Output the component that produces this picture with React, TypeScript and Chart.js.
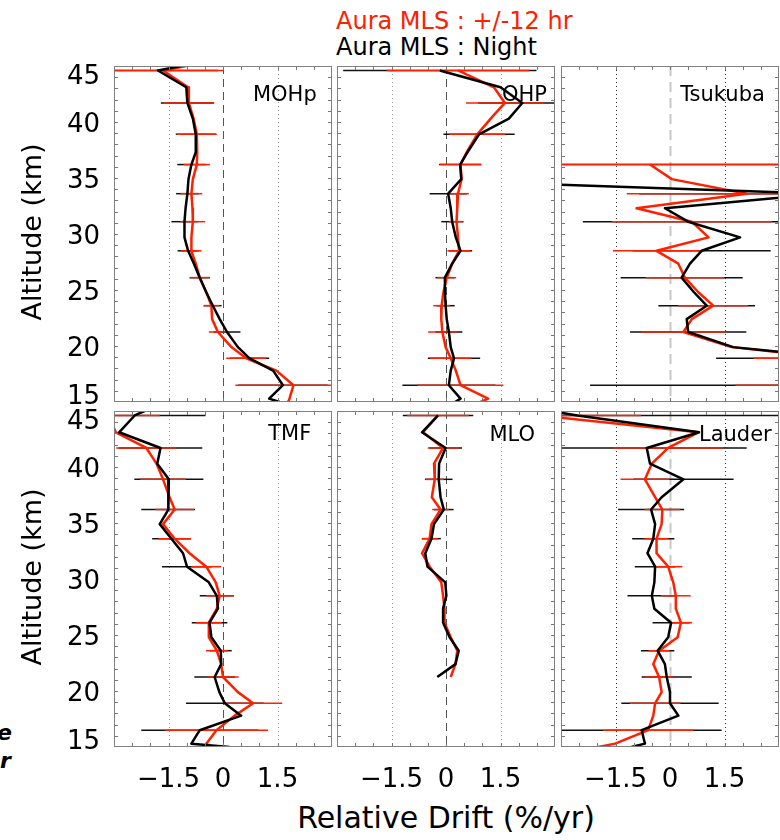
import React, { useEffect, useRef } from "react";
import { Chart, registerables } from "chart.js";
Chart.register(...registerables);

// ---------------- data ----------------
const ALTITUDE_KM = [45.0, 44.6, 43.1, 41.7, 40.3, 38.9, 37.3, 36.2, 34.9, 33.6, 32.3, 31.1, 29.7, 28.5, 27.35, 26.1, 24.8, 23.6, 22.4, 21.25, 19.9, 18.9, 17.8, 16.5, 15.3, 15.0];
const ERRORBAR_ALTITUDE_KM = [44.6, 41.7, 38.9, 36.2, 33.6, 31.1, 28.5, 26.1, 23.6, 21.25, 18.9, 16.5];
const X_TICK_LABELS = [-1.5, 0, 1.5];
const Y_TICK_LABELS = [15, 20, 25, 30, 35, 40, 45];
const SERIES_NAMES = ["Aura MLS : +/-12 hr", "Aura MLS : Night"];
const STATIONS = ["MOHp", "OHP", "Tsukuba", "TMF", "MLO", "Lauder"];

const MOHP_NIGHT = [-1.15, -1.79, -1.01, -0.98, -0.83, -0.75, -0.75, -0.87, -0.95, -0.98, -1.03, -1.06, -1.06, -0.96, -0.80, -0.64, -0.46, -0.28, -0.09, 0.11, 0.41, 0.73, 1.38, 1.65, 1.27, 1.56];
const MOHP_12HR = [-1.01, -1.65, -0.96, -0.94, -0.81, -0.72, -0.71, -0.72, -0.83, -0.87, -0.84, -0.83, -0.87, -0.87, -0.75, -0.64, -0.46, -0.32, -0.30, -0.14, 0.23, 0.64, 1.47, 1.94, 1.83, 1.79];
const MOHP_NIGHT_ERR = [1.65, 0.73, 0.55, 0.39, 0.31, 0.36, 0.29, 0.28, 0.24, 0.37, 0.54, 1.23];
const MOHP_12HR_ERR = [1.65, 0.70, 0.55, 0.36, 0.30, 0.34, 0.28, 0.27, 0.22, 0.25, 0.55, 1.60];

const OHP_NIGHT = [null, -0.17, 1.50, 2.10, 1.73, 0.91, 0.59, 0.39, 0.42, 0.06, 0.13, 0.17, 0.27, 0.40, 0.17, -0.03, -0.03, -0.01, 0.02, 0.08, 0.13, 0.22, 0.13, 0.08, 0.40, 0.25];
const OHP_12HR = [null, 0.33, 1.32, 1.62, 1.23, 0.86, 0.57, 0.40, 0.43, 0.33, 0.31, 0.29, 0.33, 0.36, 0.17, 0.02, -0.07, -0.12, -0.13, -0.10, -0.01, 0.13, 0.27, 0.40, 1.16, 0.95];
const OHP_NIGHT_ERR = [2.66, 1.22, 0.98, 0.58, 0.51, 0.30, 0.32, 0.26, 0.25, 0.37, 0.72, 1.28];
const OHP_12HR_ERR = [1.96, 1.07, 0.77, 0.57, 0.30, 0.20, 0.32, 0.26, 0.23, 0.39, 0.57, 1.18];

const TSUKUBA_NIGHT = [null, null, null, null, null, null, null, -9.0, -7.5, 4.2, -0.14, 0.50, 1.93, 0.87, 0.55, 0.32, 0.66, 1.01, 0.46, 0.50, 1.74, 4.85, 5.5, 5.5, null, null];
const TSUKUBA_12HR = [null, null, null, null, null, null, null, -0.55, 0.05, 2.11, -0.92, 0.60, 1.06, -0.37, 0.23, 0.41, 0.78, 1.19, 0.60, 0.37, 1.70, 4.5, 5.0, 5.0, null, null];
const TSUKUBA_NIGHT_ERR = [null, null, null, 13.0, 5.05, 2.9, 1.9, 1.68, 1.33, 1.6, 3.58, 7.7];
const TSUKUBA_12HR_ERR = [null, null, null, 4.0, 3.3, 2.2, 1.2, 1.08, 0.96, 1.15, 2.2, 3.2];

const TMF_NIGHT = [-2.16, -2.43, -2.86, -1.72, -1.81, -1.49, -1.50, -1.51, -1.74, -1.42, -1.10, -0.99, -0.39, -0.17, -0.14, -0.37, -0.32, -0.06, -0.05, -0.23, -0.10, 0.05, 0.50, -0.64, -0.87, 0.18];
const TMF_12HR = [null, -3.15, -2.95, -2.11, -1.83, -1.65, -1.47, -1.33, -1.65, -1.33, -0.92, -0.46, -0.20, -0.09, -0.17, -0.39, -0.39, -0.17, -0.05, 0.0, 0.41, 0.83, 0.32, -0.18, -0.46, -0.35];
const TMF_NIGHT_ERR = [1.95, 1.15, 0.95, 0.74, 0.53, 0.69, 0.47, 0.49, 0.30, 0.56, 1.07, 1.61];
const TMF_12HR_ERR = [1.41, 0.83, 0.63, 0.53, 0.45, 0.41, 0.38, 0.36, 0.30, 0.43, 0.80, 1.42];

const MLO_NIGHT = [null, -0.22, -0.66, -0.01, -0.19, -0.20, -0.15, -0.06, -0.33, -0.40, -0.57, -0.51, -0.02, 0.01, -0.08, -0.08, 0.10, 0.35, 0.26, -0.24, null, null, null, null, null, null];
const MLO_12HR = [null, -0.22, -0.63, -0.08, -0.33, -0.31, -0.39, -0.15, -0.40, -0.45, -0.66, -0.45, -0.13, -0.08, -0.04, -0.04, 0.13, 0.31, 0.26, 0.13, null, null, null, null, null, null];
const MLO_NIGHT_ERR = [0.97, 0.45, 0.38, 0.27, 0.26, null, null, null, null, null, null, null];
const MLO_12HR_ERR = [0.85, 0.42, 0.25, 0.23, 0.22, null, null, null, null, null, null, null];

const LAUDER_NIGHT = [-3.3, -2.55, 0.80, -0.64, -0.55, 0.37, -0.23, -0.52, -0.41, -0.46, -0.62, -0.41, -0.43, -0.50, -0.43, 0.03, -0.05, -0.34, -0.14, -0.09, 0.0, 0.0, 0.23, -0.78, -0.69, -1.06];
const LAUDER_12HR = [null, -3.6, 0.78, -0.05, -0.50, -0.69, -0.41, -0.21, -0.23, -0.37, -0.37, -0.05, 0.09, 0.16, 0.16, 0.30, 0.21, -0.30, -0.46, -0.30, -0.23, -0.41, -0.46, -0.60, -1.51, -1.97];
const LAUDER_NIGHT_ERR = [7.0, 2.75, 1.38, 0.91, 0.58, 0.56, 0.67, 0.51, 0.46, 0.69, 1.34, 2.2];
const LAUDER_12HR_ERR = [2.8, 1.5, 0.67, 0.49, 0.33, 0.39, 0.41, 0.31, 0.29, 0.38, 0.70, 1.24];

// ---------------- layout / style ----------------
const X_MIN = -3, X_MAX = 3, Y_MIN = 15, Y_MAX = 45;
const COL_X = [114, 337, 561];
const ROW_Y = [66, 411];
const PANEL_W = 218, PANEL_H = 336;
const CANVAS_COL = [[20, 335], [335, 558], [558, 780]];
const CANVAS_ROW = [[56, 405], [405, 800]];
const NIGHT_COLOR = "#000000";
const HR12_COLOR = "rgb(255,32,0)";
const FONT = '"DejaVu Sans", sans-serif';

const STYLE_A = {
  side: { color: "#9a9a9a", width: 1, dash: [1, 3] },
  zero: { color: "#555555", width: 1, dash: [8, 5] },
};
const STYLE_B = {
  side: { color: "#333333", width: 1, dash: [1, 3] },
  zero: { color: "#c8c8c8", width: 2, dash: [10, 6] },
};

type Panel = {
  name: string; night: (number | null)[]; hr12: (number | null)[];
  nightErr: (number | null)[]; hr12Err: (number | null)[];
  label: [number, number]; col: number; row: number; style: typeof STYLE_A;
};

const PANELS: Panel[] = [
  { name: STATIONS[0], night: MOHP_NIGHT, hr12: MOHP_12HR, nightErr: MOHP_NIGHT_ERR, hr12Err: MOHP_12HR_ERR, label: [2.58, 41.9], col: 0, row: 0, style: STYLE_A },
  { name: STATIONS[1], night: OHP_NIGHT, hr12: OHP_12HR, nightErr: OHP_NIGHT_ERR, hr12Err: OHP_12HR_ERR, label: [2.78, 41.85], col: 1, row: 0, style: STYLE_A },
  { name: STATIONS[2], night: TSUKUBA_NIGHT, hr12: TSUKUBA_12HR, nightErr: TSUKUBA_NIGHT_ERR, hr12Err: TSUKUBA_12HR_ERR, label: [2.61, 41.9], col: 2, row: 0, style: STYLE_B },
  { name: STATIONS[3], night: TMF_NIGHT, hr12: TMF_12HR, nightErr: TMF_NIGHT_ERR, hr12Err: TMF_12HR_ERR, label: [2.43, 42.4], col: 0, row: 1, style: STYLE_A },
  { name: STATIONS[4], night: MLO_NIGHT, hr12: MLO_12HR, nightErr: MLO_NIGHT_ERR, hr12Err: MLO_12HR_ERR, label: [2.45, 42.3], col: 1, row: 1, style: STYLE_A },
  { name: STATIONS[5], night: LAUDER_NIGHT, hr12: LAUDER_12HR, nightErr: LAUDER_NIGHT_ERR, hr12Err: LAUDER_12HR_ERR, label: [2.8, 42.3], col: 2, row: 1, style: STYLE_B },
];

const toPoints = (vals: (number | null)[]) =>
  vals
    .map((v, i) => (v == null ? null : { x: v, y: ALTITUDE_KM[i] }))
    .filter((p) => p !== null) as { x: number; y: number }[];

function makePlugin(p: Panel) {
  return {
    id: "decor",
    beforeDatasetsDraw(chart: any) {
      const { ctx, chartArea: a, scales } = chart;
      const xs = scales.x, ys = scales.y;
      ctx.save();
      ctx.beginPath();
      ctx.rect(a.left, a.top, a.right - a.left, a.bottom - a.top);
      ctx.clip();
      X_TICK_LABELS.forEach((v) => {
        const st = v === 0 ? p.style.zero : p.style.side;
        const px = Math.round(xs.getPixelForValue(v)) + 0.5;
        ctx.strokeStyle = st.color;
        ctx.lineWidth = st.width;
        ctx.setLineDash(st.dash);
        ctx.beginPath();
        ctx.moveTo(px, a.top);
        ctx.lineTo(px, a.bottom);
        ctx.stroke();
      });
      ctx.setLineDash([]);
      const bars = (vals: (number | null)[], errs: (number | null)[], color: string) => {
        ctx.strokeStyle = color;
        ctx.lineWidth = 1.5;
        ERRORBAR_ALTITUDE_KM.forEach((alt, k) => {
          const e = errs[k];
          const c = vals[ALTITUDE_KM.indexOf(alt)];
          if (e == null || c == null) return;
          const y = ys.getPixelForValue(alt);
          ctx.beginPath();
          ctx.moveTo(xs.getPixelForValue(c - e), y);
          ctx.lineTo(xs.getPixelForValue(c + e), y);
          ctx.stroke();
        });
      };
      bars(p.night, p.nightErr, "#111111");
      bars(p.hr12, p.hr12Err, HR12_COLOR);
      ctx.restore();
    },
    afterDatasetsDraw(chart: any) {
      const { ctx, chartArea: a, scales } = chart;
      const xs = scales.x, ys = scales.y;
      ctx.save();
      // ticks
      ctx.strokeStyle = "#777777";
      ctx.lineWidth = 1;
      for (let v = X_MIN + 0.5; v < X_MAX - 0.01; v += 0.5) {
        const px = Math.round(xs.getPixelForValue(v)) + 0.5;
        ctx.beginPath();
        ctx.moveTo(px, a.top); ctx.lineTo(px, a.top + 4);
        ctx.moveTo(px, a.bottom); ctx.lineTo(px, a.bottom - 4);
        ctx.stroke();
      }
      for (let v = Y_MIN + 1; v < Y_MAX; v += 1) {
        const py = Math.round(ys.getPixelForValue(v)) + 0.5;
        ctx.beginPath();
        ctx.moveTo(a.left, py); ctx.lineTo(a.left + 4, py);
        ctx.moveTo(a.right, py); ctx.lineTo(a.right - 4, py);
        ctx.stroke();
      }
      // frame
      ctx.strokeStyle = "#808080";
      ctx.lineWidth = 1;
      ctx.strokeRect(a.left + 0.5, a.top + 0.5, a.right - a.left - 1, a.bottom - a.top - 1);
      // station label
      ctx.fillStyle = "#000";
      ctx.font = `21px ${FONT}`;
      ctx.textAlign = "right";
      ctx.textBaseline = "alphabetic";
      ctx.fillText(p.name, xs.getPixelForValue(p.label[0]), ys.getPixelForValue(p.label[1]));
      // tick labels
      ctx.font = `26px ${FONT}`;
      if (p.col === 0) {
        ctx.textAlign = "right";
        ctx.textBaseline = "middle";
        Y_TICK_LABELS.forEach((v) => {
          const py = Math.min(Math.max(ys.getPixelForValue(v) + 3, a.top + 11), a.bottom - 5);
          ctx.fillText(String(v), a.left - 14, py);
        });
      }
      if (p.row === 1) {
        ctx.textAlign = "center";
        ctx.textBaseline = "middle";
        X_TICK_LABELS.forEach((v) => {
          const s = v < 0 ? "\u2212" + Math.abs(v).toString() : v.toString();
          ctx.fillText(s, xs.getPixelForValue(v), a.bottom + 33);
        });
      }
      ctx.restore();
    },
  };
}

function PanelChart({ p }: { p: Panel }) {
  const ref = useRef<HTMLCanvasElement>(null);
  const [cl, cr] = CANVAS_COL[p.col];
  const [ct, cb] = CANVAS_ROW[p.row];
  const w = cr - cl, h = cb - ct;
  useEffect(() => {
    const padding = {
      left: COL_X[p.col] - cl,
      right: cr - (COL_X[p.col] + PANEL_W),
      top: ROW_Y[p.row] - ct,
      bottom: cb - (ROW_Y[p.row] + PANEL_H),
    };
    const chart = new Chart(ref.current as HTMLCanvasElement, {
      type: "line",
      data: {
        datasets: [
          { label: SERIES_NAMES[1], data: toPoints(p.night), borderColor: NIGHT_COLOR, borderWidth: 2.5, pointRadius: 0, fill: false, tension: 0, clip: 0, borderJoinStyle: "round" } as any,
          { label: SERIES_NAMES[0], data: toPoints(p.hr12), borderColor: HR12_COLOR, borderWidth: 2.5, pointRadius: 0, fill: false, tension: 0, clip: 0, borderJoinStyle: "round" } as any,
        ],
      },
      options: {
        animation: false,
        responsive: false,
        devicePixelRatio: 1,
        events: [],
        layout: { padding },
        plugins: { legend: { display: false }, tooltip: { enabled: false }, title: { display: false } },
        scales: {
          x: { type: "linear", min: X_MIN, max: X_MAX, display: false },
          y: { type: "linear", min: Y_MIN, max: Y_MAX, display: false },
        },
      },
      plugins: [makePlugin(p)],
    } as any);
    return () => chart.destroy();
  }, [p]);
  return (
    <canvas
      ref={ref}
      width={w}
      height={h}
      style={{ position: "absolute", left: cl, top: ct, width: w, height: h }}
    />
  );
}

export default function App() {
  const txt: React.CSSProperties = { position: "absolute", fontFamily: FONT, whiteSpace: "nowrap", lineHeight: 1 };
  return (
    <div style={{ position: "absolute", left: 0, top: 0, width: 780, height: 840, background: "#fff", overflow: "hidden" }}>
      <div style={{ ...txt, left: 336, top: 9, fontSize: 24, color: HR12_COLOR }}>{SERIES_NAMES[0]}</div>
      <div style={{ ...txt, left: 336, top: 35, fontSize: 24, color: "#000" }}>{SERIES_NAMES[1]}</div>
      {PANELS.map((p) => (
        <PanelChart key={p.name} p={p} />
      ))}
      {ROW_Y.map((y) => (
        <div key={y} style={{ ...txt, left: 31, top: y + PANEL_H / 2 - 2, fontSize: 27, transform: "translate(-50%, -50%) rotate(-90deg)" }}>
          Altitude (km)
        </div>
      ))}
      <div style={{ ...txt, left: 446, top: 818, fontSize: 30, transform: "translate(-50%, -50%)" }}>Relative Drift (%/yr)</div>
      <div style={{ ...txt, left: -3, top: 722, fontSize: 22, fontWeight: "bold", fontStyle: "italic" }}>e</div>
      <div style={{ ...txt, left: 0, top: 750, fontSize: 22, fontWeight: "bold", fontStyle: "italic" }}>r</div>
    </div>
  );
}
